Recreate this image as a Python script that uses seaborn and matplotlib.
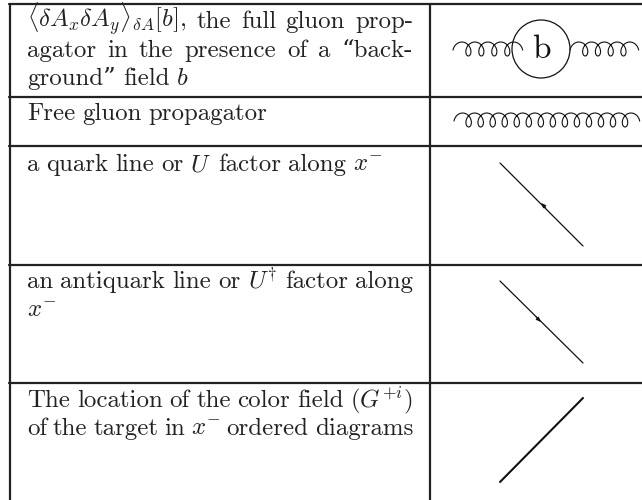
import numpy as np
import matplotlib
matplotlib.use("Agg")
import matplotlib.pyplot as plt
import seaborn as sns

sns.set_theme(style="white")
plt.rcParams['font.family'] = ['cmr10', 'DejaVu Serif']
plt.rcParams['mathtext.fontset'] = 'cm'
plt.rcParams['axes.unicode_minus'] = False

# table grid in picture pixels
row_lines = [4, 96.5, 146, 265, 382.5]
left_x = 10
mid_x = 430
right_x = 642
bottom_y = 500

# text: (y of baseline, justified?, words)
cell_lines = [
    (28, True, [r"$\langle\delta A_x\delta A_y\rangle_{\delta A}[b]$,", "the", "full", "gluon", "prop-"]),
    (57, True, ["agator", "in", "the", "presence", "of", "a", "\u201cback-"]),
    (85, False, ["ground\u201d", "field", "$b$"]),
    (120, False, ["Free", "gluon", "propagator"]),
    (171, False, ["a", "quark", "line", "or", "$U$", "factor", "along", "$x^{-}$"]),
    (288, True, ["an", "antiquark", "line", "or", r"$U^{\dagger}$", "factor", "along"]),
    (317, False, ["$x^{-}$"]),
    (407, True, ["The", "location", "of", "the", "color", "field", "$(G^{+i})$"]),
    (435, True, ["of", "the", "target", "in", "$x^{-}$", "ordered", "diagrams"]),
]
text_x0 = 27
text_x1 = 413
font_px = 17.9

# diagram lines, (x0, y0, x1, y1)
quark_line = [500, 163, 583, 246]
antiquark_line = [500, 281, 583, 363]
field_line = [500, 482, 583, 398]
quark_arrow = [(546, 208), (541, 203)]
antiquark_arrow = [(536, 317), (541, 322)]

blob_center = (541, 49)
blob_radius = 29

# gluon coils: x start, x end, y centre, number of turns
coils = [(453, 512, 49, 4), (570, 628, 49, 4), (454, 629, 120, 14)]


def draw_coil(ax, x0, x1, yc, turns):
    t = np.linspace(-np.pi * 0.55, 2 * np.pi * turns + np.pi * 0.55, 60 * turns)
    a = (x1 - x0) / (t[-1] - t[0])
    b = 5.4
    x = x0 + (t - t[0]) * a + b * (np.sin(t) - np.sin(t[0]))
    y = yc - 7 * np.cos(t)
    sns.lineplot(x=x, y=y, ax=ax, sort=False, estimator=None, color="#111111", lw=0.8)


def draw_words(ax, fig, y, justified, words):
    txts = [ax.text(text_x0, y, w, fontsize=font_px, color="#222222", ha="left", va="baseline") for w in words]
    r = fig.canvas.get_renderer()
    widths = [t.get_window_extent(r).width for t in txts]
    gap = 7.0
    if justified and len(words) > 1:
        gap = (text_x1 - text_x0 - sum(widths)) / (len(words) - 1)
    x = text_x0
    for t, w in zip(txts, widths):
        t.set_x(x)
        x += w + gap


fig, ax = plt.subplots(figsize=(6.42, 5.0), dpi=100)
fig.subplots_adjust(0, 0, 1, 1)
ax.set_xlim(0, 642)
ax.set_ylim(500, 0)
ax.axis("off")

for yy in row_lines:
    sns.lineplot(x=[left_x - 1, right_x], y=[yy, yy], ax=ax, color="#222222", lw=1.6)
for xx in [left_x, mid_x]:
    sns.lineplot(x=[xx, xx], y=[row_lines[0], bottom_y], ax=ax, sort=False, estimator=None, color="#222222", lw=1.6)

for ln, w in [(quark_line, 0.9), (antiquark_line, 0.9), (field_line, 1.5)]:
    sns.lineplot(x=[ln[0], ln[2]], y=[ln[1], ln[3]], ax=ax, sort=False, estimator=None, color="#111111", lw=w)

for start, tip in [quark_arrow, antiquark_arrow]:
    ax.annotate("", xy=tip, xytext=start,
                arrowprops=dict(arrowstyle="-|>,head_length=0.25,head_width=0.1", color="#111111", lw=0.6,
                                shrinkA=0, shrinkB=0))

ax.add_patch(plt.Circle(blob_center, blob_radius, fill=False, ec="#111111", lw=0.9))
ax.text(blob_center[0], blob_center[1], "b", fontsize=24, color="#111111", ha="center", va="center")

for c in coils:
    draw_coil(ax, *c)

fig.canvas.draw()
for y, justified, words in cell_lines:
    draw_words(ax, fig, y, justified, words)

fig.savefig("out.png", dpi=100)
